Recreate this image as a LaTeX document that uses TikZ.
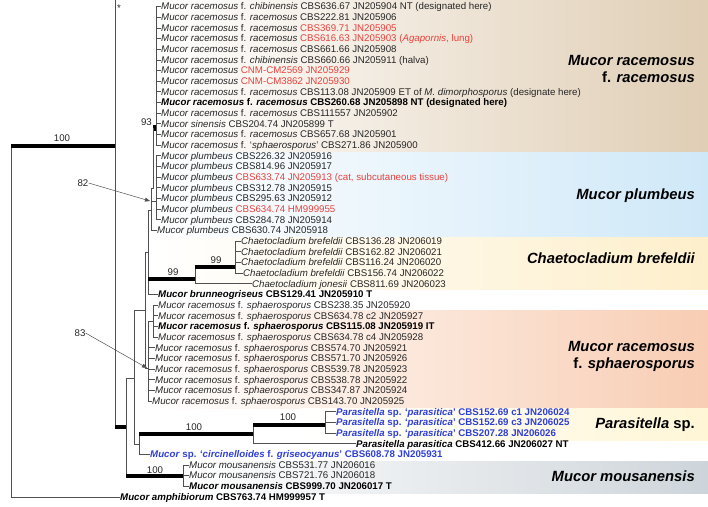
\documentclass[tikz,border=0pt]{standalone}
\usepackage{fontspec}
\setmainfont{Liberation Sans}
\usetikzlibrary{arrows.meta}
\definecolor{txt}{HTML}{262626}
\definecolor{brc}{HTML}{505050}
\definecolor{redt}{HTML}{E8413C}
\definecolor{bluet}{HTML}{2E3FD6}
\definecolor{bandA}{HTML}{E0CEB5}
\definecolor{bandB}{HTML}{CFE8F8}
\definecolor{bandC}{HTML}{FEEFCB}
\definecolor{bandD}{HTML}{F8CDB3}
\definecolor{bandE}{HTML}{FFF6D6}
\definecolor{bandF}{HTML}{CED5DA}
\newcommand\I[1]{\textit{#1}}
\newcommand\R[1]{\textcolor{redt}{#1}}
\newcommand\tipsize{\fontsize{9.7}{10}\selectfont}
\newcommand\grpsize{\fontsize{14.8}{17}\selectfont\bfseries\itshape}
\begin{document}
\begin{tikzpicture}[x=1pt,y=-1pt,
  declare function={ry(\n)=6.5+(\n-1)*10.66;},
  br/.style={draw=brc,line width=0.6pt},
  thk/.style={draw=black,line width=3.6pt},
  tip/.style={font=\tipsize,inner sep=0pt,anchor=west,text height=6.9pt,text depth=0pt,text=txt},
  grp/.style={font=\grpsize,align=right,anchor=east,inner sep=0pt,text=black},
  bs/.style={font=\tipsize,inner sep=0pt,text=txt},
  arr/.style={draw=brc,line width=0.5pt,-{Triangle[length=5pt,width=4pt]}}]
\useasboundingbox (0,0) rectangle (708,506);
% bands
\fill[left color=white,right color=bandA] (150,0) rectangle (708,152);
\fill[left color=white,right color=bandB] (150,152) rectangle (708,237);
\fill[left color=white,right color=bandC] (150,237) rectangle (708,289);
\fill[left color=white,right color=bandD] (150,310) rectangle (708,408);
\fill[left color=white,right color=bandE] (300,408) rectangle (708,440);
\fill[left color=white,right color=bandF] (180,461) rectangle (708,493);
% group labels
\node[grp] (gA) at (695,69) {Mucor racemosus\\{\upshape f.} racemosus};
\node[grp] (gB) at (695,196) {Mucor plumbeus};
\node[grp] (gC) at (695,258) {Chaetocladium brefeldii};
\node[grp] (gD) at (695,356) {Mucor racemosus\\{\upshape f.} sphaerosporus};
\node[grp] (gE) at (695,425) {Parasitella {\upshape sp.}};
\node[grp] (gF) at (695,476) {Mucor mousanensis};
% tips
\node[tip] (t1) at (161,{ry(1)}) {\I{Mucor racemosus} f. \I{chibinensis} CBS636.67 JN205904 NT (designated here)};
\node[tip] (t2) at (161,{ry(2)}) {\I{Mucor racemosus} f. \I{racemosus} CBS222.81 JN205906};
\node[tip] (t3) at (161,{ry(3)}) {\I{Mucor racemosus} f. \I{racemosus} \R{CBS369.71 JN205905}};
\node[tip] (t4) at (161,{ry(4)}) {\I{Mucor racemosus} f. \I{racemosus} \R{CBS616.63 JN205903 (\I{Agapornis}, lung)}};
\node[tip] (t5) at (161,{ry(5)}) {\I{Mucor racemosus} f. \I{racemosus} CBS661.66 JN205908};
\node[tip] (t6) at (161,{ry(6)}) {\I{Mucor racemosus} f. \I{chibinensis} CBS660.66 JN205911 (halva)};
\node[tip] (t7) at (161,{ry(7)}) {\I{Mucor racemosus} \R{CNM-CM2569 JN205929}};
\node[tip] (t8) at (161,{ry(8)}) {\I{Mucor racemosus} \R{CNM-CM3862 JN205930}};
\node[tip] (t9) at (161,{ry(9)}) {\I{Mucor racemosus} f. \I{racemosus} CBS113.08 JN205909 ET of \I{M. dimorphosporus} (designate here)};
\node[tip,text=black] (t10) at (161,{ry(10)}) {\bfseries\I{Mucor racemosus} f. \I{racemosus} CBS260.68 JN205898 NT (designated here)};
\node[tip] (t11) at (161,{ry(11)}) {\I{Mucor racemosus} f. \I{racemosus} CBS111557 JN205902};
\node[tip] (t12) at (161,{ry(12)}) {\I{Mucor sinensis} CBS204.74 JN205899 T};
\node[tip] (t13) at (161,{ry(13)}) {\I{Mucor racemosus} f. \I{racemosus} CBS657.68 JN205901};
\node[tip] (t14) at (161,{ry(14)}) {\I{Mucor racemosus} f. ‘\I{sphaerosporus}’ CBS271.86 JN205900};
\node[tip] (t15) at (161,{ry(15)}) {\I{Mucor plumbeus} CBS226.32 JN205916};
\node[tip] (t16) at (161,{ry(16)}) {\I{Mucor plumbeus} CBS814.96 JN205917};
\node[tip] (t17) at (161,{ry(17)}) {\I{Mucor plumbeus} \R{CBS633.74 JN205913 (cat, subcutaneous tissue)}};
\node[tip] (t18) at (161,{ry(18)}) {\I{Mucor plumbeus} CBS312.78 JN205915};
\node[tip] (t19) at (161,{ry(19)}) {\I{Mucor plumbeus} CBS295.63 JN205912};
\node[tip] (t20) at (161,{ry(20)}) {\I{Mucor plumbeus} \R{CBS634.74 HM999955}};
\node[tip] (t21) at (161,{ry(21)}) {\I{Mucor plumbeus} CBS284.78 JN205914};
\node[tip] (t22) at (157,{ry(22)}) {\I{Mucor plumbeus} CBS630.74 JN205918};
\node[tip] (t23) at (241,{ry(23)}) {\I{Chaetocladium brefeldii} CBS136.28 JN206019};
\node[tip] (t24) at (241,{ry(24)}) {\I{Chaetocladium brefeldii} CBS162.82 JN206021};
\node[tip] (t25) at (241,{ry(25)}) {\I{Chaetocladium brefeldii} CBS116.24 JN206020};
\node[tip] (t26) at (243,{ry(26)}) {\I{Chaetocladium brefeldii} CBS156.74 JN206022};
\node[tip] (t27) at (252,{ry(27)}) {\I{Chaetocladium jonesii} CBS811.69 JN206023};
\node[tip,text=black] (t28) at (158,{ry(28)}) {\bfseries\I{Mucor brunneogriseus} CBS129.41 JN205910 T};
\node[tip] (t29) at (158,{ry(29)}) {\I{Mucor racemosus} f. \I{sphaerosporus} CBS238.35 JN205920};
\node[tip] (t30) at (158,{ry(30)}) {\I{Mucor racemosus} f. \I{sphaerosporus} CBS634.78 c2 JN205927};
\node[tip,text=black] (t31) at (158,{ry(31)}) {\bfseries\I{Mucor racemosus} f. \I{sphaerosporus} CBS115.08 JN205919 IT};
\node[tip] (t32) at (158,{ry(32)}) {\I{Mucor racemosus} f. \I{sphaerosporus} CBS634.78 c4 JN205928};
\node[tip] (t33) at (155,{ry(33)}) {\I{Mucor racemosus} f. \I{sphaerosporus} CBS574.70 JN205921};
\node[tip] (t34) at (155,{ry(34)}) {\I{Mucor racemosus} f. \I{sphaerosporus} CBS571.70 JN205926};
\node[tip] (t35) at (155,{ry(35)}) {\I{Mucor racemosus} f. \I{sphaerosporus} CBS539.78 JN205923};
\node[tip] (t36) at (155,{ry(36)}) {\I{Mucor racemosus} f. \I{sphaerosporus} CBS538.78 JN205922};
\node[tip] (t37) at (155,{ry(37)}) {\I{Mucor racemosus} f. \I{sphaerosporus} CBS347.87 JN205924};
\node[tip] (t38) at (152,{ry(38)}) {\I{Mucor racemosus} f. \I{sphaerosporus} CBS143.70 JN205925};
\node[tip,text=bluet] (t39) at (336,{ry(39)}) {\bfseries\I{Parasitella} sp. ‘\I{parasitica}’ CBS152.69 c1 JN206024};
\node[tip,text=bluet] (t40) at (336,{ry(40)}) {\bfseries\I{Parasitella} sp. ‘\I{parasitica}’ CBS152.69 c3 JN206025};
\node[tip,text=bluet] (t41) at (336,{ry(41)}) {\bfseries\I{Parasitella} sp. ‘\I{parasitica}’ CBS207.28 JN206026};
\node[tip,text=black] (t42) at (356,{ry(42)}) {\bfseries\I{Parasitella parasitica} CBS412.66 JN206027 NT};
\node[tip,text=bluet] (t43) at (150,{ry(43)}) {\bfseries\I{Mucor} sp. ‘\I{circinelloides} f. \I{griseocyanus}’ CBS608.78 JN205931};
\node[tip] (t44) at (189,{ry(44)}) {\I{Mucor mousanensis} CBS531.77 JN206016};
\node[tip] (t45) at (189,{ry(45)}) {\I{Mucor mousanensis} CBS721.76 JN206018};
\node[tip,text=black] (t46) at (189,{ry(46)}) {\bfseries\I{Mucor mousanensis} CBS999.70 JN206017 T};
\node[tip,text=black] (t47) at (120,{ry(47)}) {\bfseries\I{Mucor amphibiorum} CBS763.74 HM999957 T};
% internal node coordinates
\coordinate (n0) at (11,146);
\coordinate (n1) at (115,146);
\coordinate (n1t) at (115,0);
\coordinate (n1b) at (115,427);
\coordinate (n2) at (126,427);
\coordinate (n2t) at (126,378);
\coordinate (n2b) at (126,476);
\coordinate (n3) at (134,378);
\coordinate (n3t) at (134,310);
\coordinate (n3b) at (134,444);
\coordinate (n4) at (139,444);
\coordinate (n4t) at (139,434);
\coordinate (xR) at (156,0);
\coordinate (xV1) at (153,0);
\coordinate (xV2) at (151,0);
\coordinate (xV3) at (148,0);
\coordinate (xV4) at (145,0);
\coordinate (xV5) at (148.5,0);
\coordinate (xC) at (235,0);
\coordinate (xJ) at (195,0);
\coordinate (xS1) at (153,0);
\coordinate (xM) at (183,0);
\coordinate (xPa) at (325,0);
\coordinate (xPb) at (253,0);
% root
\draw[br] (n0) -- (n0 |- t47.west) -- (t47.west);
\draw[thk] (n0) -- (n1);
\draw[br] (n1t) -- (n1b);
\draw[thk] (n1b) -- (n2);
\draw[br] (n2t) -- (n2b);
\draw[br] (n2t) -- (n3);
\draw[br] (n3t) -- (n3b) -- (n4);
\draw[br] (n4t) -- (n4 |- t43.west) -- (t43.west);
% mousanensis
\draw[thk] (n2b) -- (n2b -| xM);
\draw[br] (t44.west -| xM) -- (t46.west -| xM);
\foreach \k in {44,45,46} \draw[br] (t\k.west -| xM) -- (t\k.west);
% parasitella
\draw[thk] (n4t) -- (n4t -| xPb);
\draw[br] (xPb |- 0,425) -- (xPb |- t42.west) -- (t42.west);
\draw[thk] (xPb |- 0,425) -- (xPa |- 0,425);
\draw[br] (t39.west -| xPa) -- (t41.west -| xPa);
\foreach \k in {39,40,41} \draw[br] (t\k.west -| xPa) -- (t\k.west);
% racemosus clade
\draw[br] (t1.west -| xR) -- (t14.west -| xR);
\foreach \k in {1,...,14} \draw[br] (t\k.west -| xR) -- (t\k.west);
\fill[black] (153,125) rectangle (156,131);
% plumbeus
\draw[br] (t15.west -| xR) -- (t21.west -| xR);
\foreach \k in {15,...,21} \draw[br] (t\k.west -| xR) -- (t\k.west);
\draw[br] (xV1 |- 0,128) -- (xV1 |- 0,188) -- (xV2 |- 0,188);
\draw[br] (xV2 |- 0,188) -- (xV2 |- t22.west) -- (t22.west);
\draw[br] (xV2 |- 0,201) -- (xR |- 0,201);
% ladder V3: plumbeus group, chaetocladium, brunneogriseus
\draw[br] (xV2 |- 0,210) -- (xV3 |- 0,210) -- (xV3 |- t28.west) -- (t28.west);
% chaetocladium
\draw[thk] (xV3 |- 0,279) -- (xJ |- 0,279);
\draw[br] (xJ |- 0,267) -- (xJ |- t27.west) -- (t27.west);
\draw[thk] (xJ |- 0,267) -- (xC |- 0,267);
\draw[br] (t23.west -| xC) -- (t26.west -| xC);
\foreach \k in {23,...,26} \draw[br] (t\k.west -| xC) -- (t\k.west);
% ladder V4
\draw[br] (xV3 |- 0,252) -- (xV4 |- 0,252) -- (xV4 |- 0,368) -- (xV5 |- 0,368);
\draw[br] (n3t) -- (xV4 |- n3t);
% sphaerosporus
\draw[br] (t29.west -| xS1) -- (t32.west -| xS1);
\foreach \k in {29,...,32} \draw[br] (t\k.west -| xS1) -- (t\k.west);
\draw[br] (xS1 |- 0,321) -- (xV5 |- 0,321) -- (xV5 |- t38.west) -- (t38.west);
\foreach \k in {33,...,37} \draw[br] (t\k.west -| xV5) -- (t\k.west);
% support labels
\node[bs] (b100a) at (62,138) {100};
\node[bs,anchor=east] (b93) at (152,122) {93};
\node[bs] (bst) at (119,8) {*};
\node[bs] (b82) at (83,183) {82};
\node[bs] (b83) at (80,333) {83};
\node[bs] (b99a) at (173,272) {99};
\node[bs] (b99b) at (216,260) {99};
\node[bs] (b100b) at (194,427) {100};
\node[bs] (b100c) at (288,417) {100};
\node[bs] (b100d) at (155,470) {100};
\coordinate (a82) at (150,201);
\coordinate (a83) at (147,368);
\draw[arr] (b82.east) -- (a82);
\draw[arr] (b83.east) -- (a83);
\end{tikzpicture}
\end{document}
